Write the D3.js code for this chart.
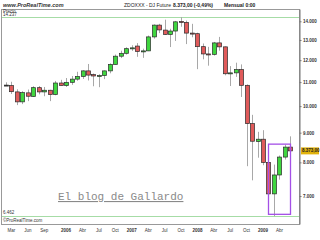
<!DOCTYPE html>
<html>
<head>
<meta charset="utf-8">
<script src="https://cdn.jsdelivr.net/npm/d3@7"></script>
<style>
body { margin: 0; background: #fff; }
svg { display: block; }
</style>
</head>
<body>
<div id="chart"></div>
<script>
// Monthly candles, ZDOXXX (DJ Future)
var months = ["2005-02","2005-03","2005-04","2005-05","2005-06","2005-07","2005-08","2005-09","2005-10","2005-11","2005-12",
    "2006-01","2006-02","2006-03","2006-04","2006-05","2006-06","2006-07","2006-08","2006-09","2006-10","2006-11","2006-12",
    "2007-01","2007-02","2007-03","2007-04","2007-05","2007-06","2007-07","2007-08","2007-09","2007-10","2007-11","2007-12",
    "2008-01","2008-02","2008-03","2008-04","2008-05","2008-06","2008-07","2008-08","2008-09","2008-10","2008-11","2008-12",
    "2009-01","2009-02","2009-03","2009-04","2009-05","2009-06"];

var opens  = [10870,10850,10580,10170,10540,10390,10760,10580,10650,10470,10960,
    10850,10990,11130,11250,11500,11330,11270,11290,11500,11800,12190,12330,
    12580,12690,12400,12450,13160,13790,13520,13290,13470,13990,13940,13360,
    13330,12660,12300,12280,12850,12650,11370,11410,11560,10860,9330,8690,
    8770,8000,7060,7610,8170,8500];
var highs  = [10990,11015,10690,10610,10680,10820,10830,10790,10670,11050,11100,
    11180,11270,11460,11530,11820,11380,11350,11520,11850,12270,12460,12630,
    12730,12840,12560,13230,13830,13860,14090,13590,14020,14237,14040,13860,
    13380,12820,12650,12900,13160,12670,11720,11880,11800,10900,9660,9030,
    9090,8280,7930,8220,8580,8870];
var lows   = [10850,10495,10040,10080,10200,10370,10480,10400,10200,10440,10840,
    10790,10880,11060,11140,11070,10820,10780,11130,11390,11790,12100,12270,
    12450,12160,12110,12440,13070,13360,13260,12640,12950,13700,12790,13140,
    11580,12040,11740,12220,12460,11300,10830,11230,10370,7880,7450,8150,
    7910,7050,6462,7470,8090,8220];
var closes = [10870,10590,10170,10550,10400,10760,10580,10650,10470,10960,10850,
    10990,11130,11250,11500,11310,11270,11290,11500,11800,12190,12330,12560,
    12600,12420,12450,13160,13790,13530,13290,13470,13970,13940,13360,13330,
    12660,12300,12280,12850,12650,11370,11410,11560,10860,9330,8700,8770,
    8000,7060,7610,8170,8500,8373];

// axis labels
var priceTicks = [7000, 8000, 9000, 10000, 11000, 12000, 13000, 14000];
var labelMonths = ["2005-03","2005-06","2005-09","2006-01","2006-04","2006-07","2006-10","2007-01","2007-04","2007-07","2007-10",
    "2008-01","2008-04","2008-07","2008-10","2009-01","2009-04"];
var labelTexts = ["Mar","Jun","Sep","2006","Abr","Jul","Oct","2007","Abr","Jul","Oct","2008","Abr","Jul","Oct","2009","Abr"];

var maxPrice = 14237, minPrice = 6462, lastPrice = 8373;
var boxMonths = ["2009-02", "2009-06"], boxPrices = [8600, 6510];

var data = months.map(function (m, i) {
    return {month: m, open: opens[i], high: highs[i], low: lows[i], close: closes[i]};
});

var es = d3.formatLocale({decimal: ",", thousands: ".", grouping: [3], currency: ["", ""]});
var fmtInt = es.format(",.0f"), fmtDec = es.format(",.2f");

var width = 320, height = 240;
var font = "'Liberation Sans', Arial, sans-serif";

var svg = d3.select("#chart")
    .append("svg")
    .attr("width", width)
    .attr("height", height);

var x = d3.scaleBand()
    .domain(months)
    .range([3.2, 293.1])
    .paddingInner(0.25)
    .paddingOuter(0.125);

var y = d3.scaleLog()
    .domain([6265, 14700])
    .range([224, 9]);

function cx(m) { return Math.round(x(m) + x.bandwidth() / 2); }

// header
svg.append("text").attr("x", 3).attr("y", 6.5)
    .style("font", "italic bold 5.5px " + font).style("fill", "#333")
    .text("www.ProRealTime.com");
svg.append("text").attr("x", 124).attr("y", 6.5)
    .style("font", "5px " + font).style("fill", "#222")
    .text("ZDOXXX - DJ Future");
svg.append("text").attr("x", 173).attr("y", 6.5)
    .style("font", "bold 5px " + font).style("fill", "#222")
    .text(fmtDec(lastPrice) + " (-0,49%)");
svg.append("text").attr("x", 224).attr("y", 6.5)
    .style("font", "bold 5px " + font).style("fill", "#222")
    .text("Mensual 0:00");

// frame
svg.append("rect")
    .attr("x", 1.5).attr("y", 9.5)
    .attr("width", 298).attr("height", 215)
    .attr("fill", "none").attr("stroke", "#999").attr("stroke-width", 1);

// max / min lines
svg.selectAll(".lim")
    .data([maxPrice, minPrice])
    .join("line")
    .attr("class", "lim")
    .attr("x1", 2).attr("x2", 299)
    .attr("y1", d => Math.round(y(d)) + 0.5)
    .attr("y2", d => Math.round(y(d)) + 0.5)
    .attr("stroke", "#a6dca6").attr("stroke-width", 1);

svg.append("text").attr("x", 3).attr("y", 12.5)
    .style("font", "4.5px " + font).style("fill", "#333").text("Precio");
svg.append("text").attr("x", 3).attr("y", 16)
    .style("font", "4.5px " + font).style("fill", "#333").text(fmtInt(maxPrice));
svg.append("text").attr("x", 3).attr("y", 213.5)
    .style("font", "4.5px " + font).style("fill", "#333").text(fmtInt(minPrice));
svg.append("text").attr("x", 3).attr("y", 222)
    .style("font", "4.5px " + font).style("fill", "#333").text("©ProRealTime.com");

// watermark
svg.append("text").attr("x", 58).attr("y", 200)
    .style("font", "11px 'Liberation Mono', 'Courier New', monospace")
    .style("fill", "#8a8a8a")
    .style("text-decoration", "underline")
    .text("El blog de Gallardo");

// wicks
svg.selectAll(".wick")
    .data(data)
    .join("line")
    .attr("class", "wick")
    .attr("x1", d => cx(d.month) + 0.5).attr("x2", d => cx(d.month) + 0.5)
    .attr("y1", d => y(d.high)).attr("y2", d => y(d.low))
    .attr("stroke", "#a8a8a8").attr("stroke-width", 1);

// bodies
svg.selectAll(".body")
    .data(data)
    .join("rect")
    .attr("class", "body")
    .attr("x", d => cx(d.month) - 1.5)
    .attr("y", d => y(Math.max(d.open, d.close)))
    .attr("width", 4)
    .attr("height", d => Math.max(1, y(Math.min(d.open, d.close)) - y(Math.max(d.open, d.close))))
    .attr("fill", d => d.close > d.open ? "#3fd63f" : (d.close < d.open ? "#e05a5a" : "#333"))
    .attr("stroke", "#2a2a2a").attr("stroke-width", 0.7);

// highlight box
svg.append("rect")
    .attr("x", cx(boxMonths[0]) + 0.5)
    .attr("y", y(boxPrices[0]))
    .attr("width", cx(boxMonths[1]) - cx(boxMonths[0]))
    .attr("height", y(boxPrices[1]) - y(boxPrices[0]))
    .attr("fill", "none").attr("stroke", "#a450e6").attr("stroke-width", 1.3);

// right axis
var yAxis = svg.append("g")
    .attr("transform", "translate(299.5,0)")
    .call(d3.axisRight(y).tickValues(priceTicks).tickFormat(fmtInt).tickSize(2).tickSizeOuter(0).tickPadding(1.5));
yAxis.select(".domain").attr("stroke", "#777");
yAxis.selectAll("line").attr("stroke", "#777");
yAxis.selectAll("text").style("font", "bold 4.5px " + font).style("fill", "#333");

// last price tag
var tagY = y(lastPrice);
svg.append("rect").attr("x", 301).attr("y", tagY - 3.5).attr("width", 18).attr("height", 7)
    .attr("fill", "#e2b30c");
svg.append("text").attr("x", 302).attr("y", tagY + 1.6)
    .style("font", "bold 4.5px " + font).style("fill", "#222")
    .text(fmtDec(lastPrice));

// bottom axis
var xAxis = svg.append("g")
    .attr("transform", "translate(0,224.5)")
    .call(d3.axisBottom(x).tickValues(labelMonths)
        .tickFormat(d => labelTexts[labelMonths.indexOf(d)])
        .tickSize(0).tickPadding(4));
xAxis.select(".domain").remove();
xAxis.selectAll("text")
    .style("font", d => (d.slice(5) === "01" ? "bold " : "") + "4.5px " + font)
    .style("fill", "#333");
</script>
</body>
</html>
